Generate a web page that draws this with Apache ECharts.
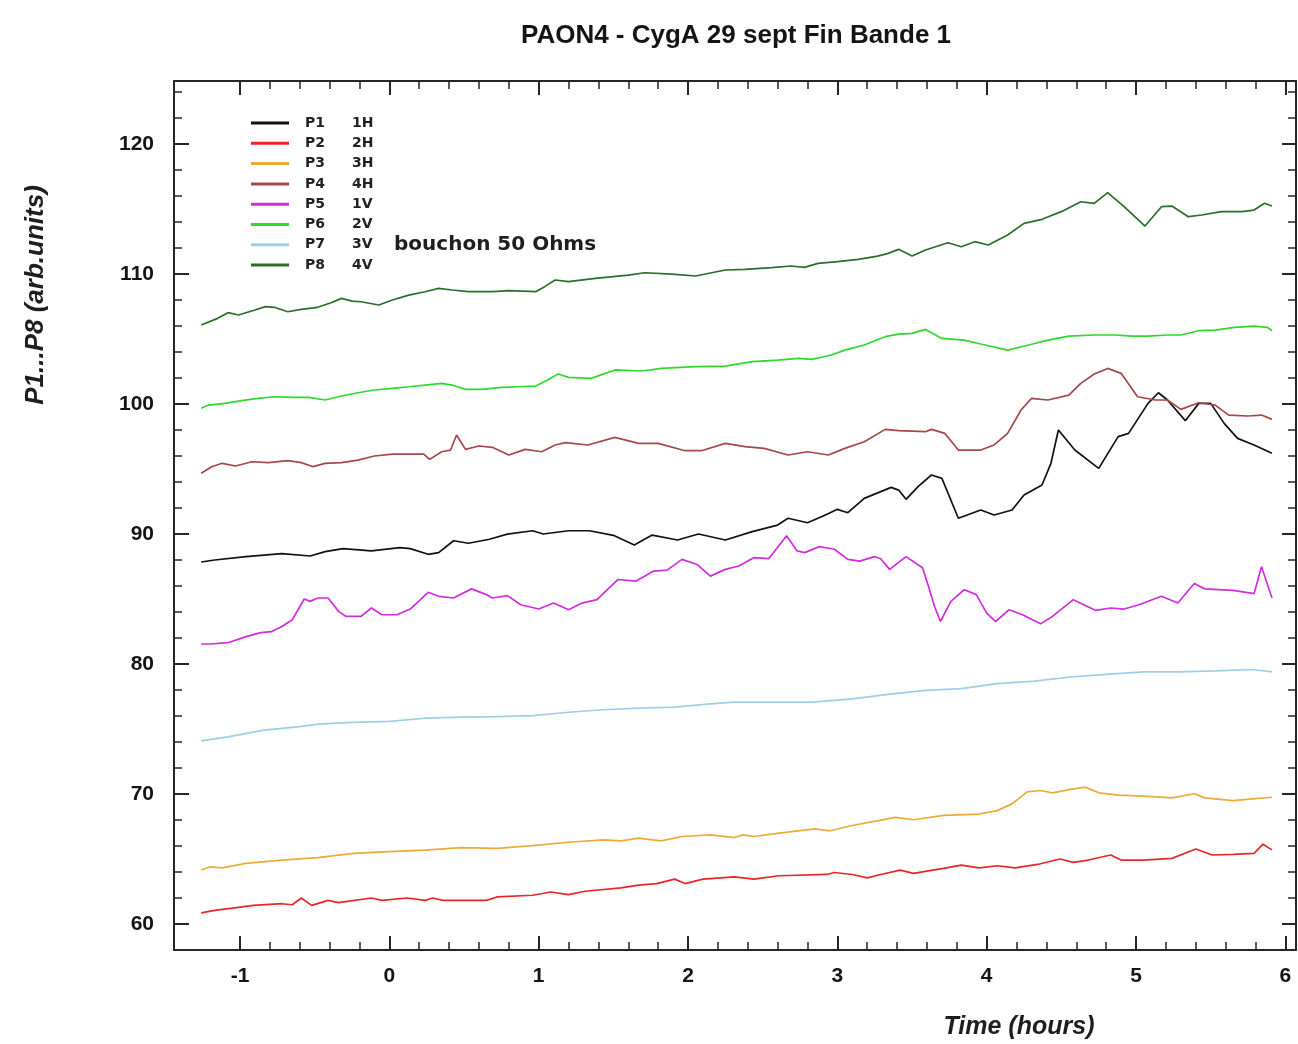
<!DOCTYPE html>
<html><head><meta charset="utf-8">
<script src="https://cdn.jsdelivr.net/npm/echarts/dist/echarts.min.js"></script>
<style>html,body{margin:0;padding:0;background:#fff}#c{width:1298px;height:1044px}</style>
</head><body><div id="c"></div><script>
const seriesNames = ['P1','P2','P3','P4','P5','P6','P7','P8'];
const polarLabels = ['1H','2H','3H','4H','1V','2V','3V','4V'];
const seriesColors = ['#111111','#e8262a','#eeaa38','#a44848','#d22cdc','#2ed82e','#9dcfe8','#2a6e2a'];
const xMajorTicks = [-1,0,1,2,3,4,5,6];
const xMinorTicks = [-0.8,-0.6,-0.4,-0.2,0.2,0.4,0.6,0.8,1.2,1.4,1.6,1.8,2.2,2.4,2.6,2.8,3.2,3.4,3.6,3.8,4.2,4.4,4.6,4.8,5.2,5.4,5.6,5.8];
const yMajorTicks = [60,70,80,90,100,110,120];
const yMinorTicks = [62,64,66,68,72,74,76,78,82,84,86,88,92,94,96,98,102,104,106,108,112,114,116,118,122,124];

const p1 = [[-1.26,87.85],[-1.17,88.0],[-0.96,88.26],[-0.72,88.49],[-0.53,88.31],[-0.43,88.65],[-0.31,88.88],[-0.12,88.7],[0.07,88.95],[0.14,88.88],[0.26,88.44],[0.33,88.57],[0.43,89.48],[0.53,89.29],[0.67,89.6],[0.79,89.99],[0.96,90.25],[1.03,90.0],[1.2,90.25],[1.34,90.25],[1.5,89.9],[1.64,89.15],[1.76,89.92],[1.93,89.54],[2.07,90.0],[2.25,89.54],[2.43,90.18],[2.6,90.69],[2.67,91.21],[2.8,90.87],[2.92,91.46],[3.0,91.9],[3.07,91.64],[3.18,92.74],[3.36,93.59],[3.41,93.38],[3.46,92.67],[3.54,93.64],[3.63,94.54],[3.7,94.28],[3.81,91.21],[3.96,91.85],[4.05,91.46],[4.17,91.85],[4.25,93.0],[4.37,93.77],[4.43,95.44],[4.48,98.0],[4.59,96.46],[4.75,95.05],[4.88,97.49],[4.95,97.74],[5.08,100.05],[5.15,100.87],[5.21,100.31],[5.33,98.72],[5.42,100.05],[5.5,100.05],[5.59,98.51],[5.68,97.36],[5.79,96.85],[5.91,96.21]];
const p2 = [[-1.26,60.85],[-1.17,61.05],[-1.05,61.22],[-0.91,61.43],[-0.72,61.56],[-0.65,61.48],[-0.59,62.0],[-0.52,61.43],[-0.41,61.82],[-0.34,61.64],[-0.12,62.0],[-0.05,61.82],[0.12,62.0],[0.24,61.82],[0.29,62.0],[0.36,61.82],[0.65,61.82],[0.72,62.08],[0.96,62.21],[1.08,62.46],[1.2,62.26],[1.31,62.52],[1.55,62.78],[1.67,62.99],[1.79,63.11],[1.91,63.45],[1.98,63.11],[2.1,63.45],[2.31,63.63],[2.44,63.45],[2.61,63.71],[2.93,63.81],[2.98,63.96],[3.1,63.81],[3.2,63.55],[3.29,63.81],[3.42,64.15],[3.51,63.89],[3.71,64.28],[3.83,64.53],[3.95,64.32],[4.07,64.48],[4.19,64.32],[4.34,64.58],[4.49,65.0],[4.58,64.74],[4.68,64.92],[4.83,65.31],[4.9,64.92],[5.05,64.92],[5.24,65.05],[5.4,65.77],[5.51,65.31],[5.65,65.36],[5.79,65.44],[5.85,66.14],[5.91,65.7]];
const p3 = [[-1.26,64.15],[-1.2,64.4],[-1.12,64.32],[-0.96,64.66],[-0.72,64.92],[-0.48,65.1],[-0.24,65.44],[0.0,65.57],[0.24,65.69],[0.48,65.88],[0.72,65.82],[0.96,66.03],[1.2,66.29],[1.43,66.47],[1.55,66.39],[1.67,66.6],[1.82,66.39],[1.96,66.73],[2.15,66.86],[2.31,66.65],[2.37,66.86],[2.44,66.73],[2.61,66.99],[2.85,67.32],[2.95,67.17],[3.1,67.58],[3.22,67.84],[3.39,68.2],[3.51,68.02],[3.71,68.35],[3.95,68.46],[4.07,68.72],[4.17,69.24],[4.27,70.17],[4.36,70.27],[4.44,70.09],[4.56,70.35],[4.66,70.53],[4.75,70.09],[4.88,69.91],[5.05,69.83],[5.24,69.7],[5.39,70.02],[5.46,69.7],[5.65,69.49],[5.8,69.65],[5.91,69.75]];
const p4 = [[-1.26,94.67],[-1.19,95.18],[-1.12,95.44],[-1.03,95.23],[-0.92,95.56],[-0.81,95.49],[-0.68,95.64],[-0.59,95.49],[-0.51,95.18],[-0.43,95.44],[-0.32,95.49],[-0.21,95.69],[-0.1,96.0],[0.02,96.15],[0.13,96.15],[0.23,96.15],[0.27,95.74],[0.35,96.33],[0.41,96.46],[0.45,97.62],[0.51,96.51],[0.6,96.77],[0.69,96.67],[0.8,96.08],[0.91,96.51],[1.02,96.33],[1.11,96.85],[1.18,97.03],[1.33,96.85],[1.51,97.44],[1.67,96.97],[1.8,96.97],[1.98,96.41],[2.09,96.41],[2.25,96.97],[2.38,96.72],[2.51,96.59],[2.67,96.08],[2.8,96.33],[2.94,96.08],[3.05,96.59],[3.18,97.1],[3.32,98.05],[3.41,97.95],[3.59,97.87],[3.63,98.05],[3.72,97.74],[3.81,96.46],[3.96,96.46],[4.05,96.85],[4.14,97.74],[4.23,99.54],[4.3,100.44],[4.41,100.31],[4.55,100.69],[4.63,101.59],[4.72,102.31],[4.81,102.74],[4.9,102.36],[5.01,100.56],[5.13,100.31],[5.21,100.31],[5.3,99.59],[5.42,100.1],[5.53,99.92],[5.62,99.15],[5.75,99.08],[5.84,99.15],[5.91,98.82]];
const p5 = [[-1.26,81.54],[-1.2,81.54],[-1.08,81.64],[-0.96,82.11],[-0.86,82.42],[-0.79,82.49],[-0.72,82.88],[-0.65,83.4],[-0.57,85.0],[-0.53,84.82],[-0.48,85.08],[-0.41,85.08],[-0.34,84.05],[-0.29,83.66],[-0.19,83.66],[-0.12,84.31],[-0.05,83.79],[0.05,83.79],[0.14,84.23],[0.26,85.52],[0.33,85.21],[0.43,85.08],[0.55,85.78],[0.65,85.34],[0.69,85.08],[0.79,85.26],[0.88,84.56],[1.0,84.23],[1.1,84.69],[1.2,84.18],[1.29,84.69],[1.39,84.95],[1.53,86.5],[1.65,86.37],[1.77,87.15],[1.86,87.22],[1.96,88.05],[2.06,87.66],[2.15,86.76],[2.25,87.28],[2.34,87.54],[2.44,88.18],[2.54,88.1],[2.66,89.86],[2.73,88.7],[2.78,88.57],[2.88,89.03],[2.98,88.83],[3.07,88.05],[3.15,87.92],[3.25,88.26],[3.29,88.1],[3.35,87.28],[3.46,88.26],[3.57,87.41],[3.61,85.99],[3.65,84.44],[3.69,83.27],[3.76,84.82],[3.85,85.72],[3.93,85.34],[4.0,83.92],[4.06,83.27],[4.15,84.18],[4.24,83.79],[4.36,83.09],[4.44,83.66],[4.58,84.95],[4.73,84.12],[4.83,84.31],[4.92,84.23],[5.02,84.56],[5.17,85.21],[5.28,84.69],[5.39,86.19],[5.46,85.78],[5.65,85.67],[5.79,85.41],[5.84,87.48],[5.91,85.08]];
const p6 = [[-1.26,99.67],[-1.21,99.92],[-1.1,100.05],[-0.99,100.26],[-0.88,100.44],[-0.77,100.56],[-0.65,100.51],[-0.54,100.51],[-0.43,100.31],[-0.32,100.62],[-0.21,100.87],[-0.1,101.08],[0.02,101.21],[0.13,101.33],[0.24,101.46],[0.35,101.59],[0.42,101.46],[0.51,101.13],[0.62,101.13],[0.75,101.28],[0.86,101.33],[0.98,101.38],[1.06,101.85],[1.13,102.31],[1.2,102.05],[1.35,101.97],[1.51,102.62],[1.69,102.54],[1.82,102.74],[2.05,102.87],[2.25,102.92],[2.43,103.26],[2.6,103.38],[2.74,103.51],[2.83,103.44],[2.96,103.77],[3.05,104.15],[3.18,104.54],[3.32,105.18],[3.41,105.38],[3.5,105.44],[3.59,105.74],[3.7,105.05],[3.85,104.92],[3.96,104.62],[4.14,104.15],[4.28,104.54],[4.41,104.92],[4.55,105.23],[4.72,105.31],[4.86,105.31],[4.97,105.23],[5.08,105.23],[5.21,105.31],[5.3,105.31],[5.42,105.64],[5.53,105.69],[5.66,105.9],[5.79,106.0],[5.88,105.9],[5.91,105.64]];
const p7 = [[-1.26,74.09],[-1.08,74.4],[-0.84,74.92],[-0.6,75.18],[-0.48,75.38],[-0.24,75.51],[0.0,75.59],[0.24,75.83],[0.48,75.91],[0.72,75.95],[0.96,76.03],[1.2,76.29],[1.43,76.48],[1.67,76.6],[1.91,76.68],[2.15,76.94],[2.31,77.07],[2.49,77.07],[2.83,77.07],[3.1,77.32],[3.34,77.66],[3.59,77.97],[3.83,78.1],[4.07,78.49],[4.32,78.69],[4.56,79.0],[4.8,79.21],[5.05,79.39],[5.29,79.39],[5.53,79.47],[5.78,79.58],[5.91,79.39]];
const p8 = [[-1.26,106.08],[-1.15,106.59],[-1.08,107.03],[-1.01,106.85],[-0.9,107.23],[-0.83,107.49],[-0.77,107.44],[-0.68,107.1],[-0.59,107.28],[-0.48,107.44],[-0.39,107.79],[-0.32,108.13],[-0.25,107.92],[-0.19,107.87],[-0.07,107.62],[0.02,108.0],[0.13,108.38],[0.24,108.64],[0.33,108.9],[0.42,108.77],[0.53,108.64],[0.69,108.64],[0.8,108.72],[0.98,108.64],[1.04,109.03],[1.11,109.54],[1.2,109.41],[1.38,109.67],[1.6,109.92],[1.71,110.1],[1.89,110.0],[2.05,109.85],[2.25,110.31],[2.38,110.36],[2.56,110.49],[2.69,110.62],[2.78,110.51],[2.87,110.82],[3.0,110.95],[3.14,111.13],[3.27,111.38],[3.34,111.59],[3.41,111.9],[3.5,111.38],[3.59,111.85],[3.74,112.41],[3.83,112.1],[3.92,112.49],[4.01,112.23],[4.14,113.0],[4.25,113.9],[4.37,114.21],[4.5,114.8],[4.63,115.56],[4.72,115.44],[4.81,116.26],[4.92,115.18],[5.06,113.69],[5.17,115.18],[5.24,115.23],[5.35,114.41],[5.44,114.54],[5.57,114.8],[5.71,114.8],[5.79,114.92],[5.86,115.44],[5.91,115.23]];
const seriesData = [p1,p2,p3,p4,p5,p6,p7,p8];

const X_MIN = -1.442, X_MAX = 6.071, Y_MIN = 58, Y_MAX = 124.85;
const FRAME = '#262626';
const LAB = 'Liberation Sans';

function xAx(pos, ticks, len, line, labels) {
  return {
    type: 'value', min: X_MIN, max: X_MAX, position: pos,
    axisLine: {show: line, onZero: false, lineStyle: {color: FRAME, width: 2}},
    axisTick: {show: true, inside: true, length: len, customValues: ticks, lineStyle: {color: FRAME, width: len > 10 ? 2 : 1.5}},
    axisLabel: labels ? {show: true, customValues: ticks, margin: 16, fontFamily: LAB, fontWeight: 'bold', fontSize: 21, color: '#141414'} : {show: false},
    splitLine: {show: false}
  };
}
function yAx(pos, ticks, len, line, labels) {
  return {
    type: 'value', min: Y_MIN, max: Y_MAX, position: pos,
    axisLine: {show: line, onZero: false, lineStyle: {color: FRAME, width: 2}},
    axisTick: {show: true, inside: true, length: len, customValues: ticks, lineStyle: {color: FRAME, width: len > 10 ? 2 : 1.5}},
    axisLabel: labels ? {show: true, customValues: ticks, margin: 20, fontFamily: LAB, fontWeight: 'bold', fontSize: 21, color: '#141414'} : {show: false},
    splitLine: {show: false}
  };
}

const chart = echarts.init(document.getElementById('c'), null, {renderer: 'canvas'});
chart.setOption({
  animation: false,
  backgroundColor: '#ffffff',
  title: {
    text: 'PAON4 - CygA 29 sept Fin Bande 1', left: 731, top: 18, textAlign: 'center',
    textStyle: {fontFamily: LAB, fontWeight: 'bold', fontSize: 26, color: '#141414'}
  },
  grid: {left: 174, right: 2, top: 81, bottom: 94, containLabel: false},
  xAxis: [
    xAx('bottom', xMajorTicks, 14, true, true),
    xAx('bottom', xMinorTicks, 8, false, false),
    xAx('top', xMajorTicks, 14, true, false),
    xAx('top', xMinorTicks, 8, false, false)
  ],
  yAxis: [
    yAx('left', yMajorTicks, 15, true, true),
    yAx('left', yMinorTicks, 8, false, false),
    yAx('right', yMajorTicks, 14, true, false),
    yAx('right', yMinorTicks, 8, false, false)
  ],
  legend: {
    orient: 'vertical', left: 246, top: 111, itemWidth: 38, itemHeight: 3, itemGap: 6.3,
    icon: 'rect', selectedMode: false, data: seriesNames,
    formatter: function (n) { return '{a|' + n + '}{b|' + polarLabels[seriesNames.indexOf(n)] + '}'; },
    textStyle: {
      fontFamily: 'DejaVu Sans', fontWeight: 'bold', fontSize: 14, color: '#222', lineHeight: 14,
      rich: {
        a: {fontFamily: 'DejaVu Sans', fontWeight: 'bold', fontSize: 14, color: '#222', width: 47, padding: [0, 0, 0, 11], lineHeight: 14},
        b: {fontFamily: 'DejaVu Sans', fontWeight: 'bold', fontSize: 14, color: '#222', lineHeight: 14}
      }
    }
  },
  graphic: [
    {type: 'text', x: 394, y: 245, style: {text: 'bouchon 50 Ohms', font: 'bold 20px "DejaVu Sans"', fill: '#1e1e1e', align: 'left', verticalAlign: 'middle'}},
    {type: 'text', x: 36, y: 295, rotation: Math.PI / 2, style: {text: 'P1...P8 (arb.units)', font: 'italic bold 26px "Liberation Sans"', fill: '#1e1e1e', align: 'center', verticalAlign: 'middle'}},
    {type: 'text', x: 1019, y: 1027, style: {text: 'Time (hours)', font: 'italic bold 25px "Liberation Sans"', fill: '#1e1e1e', align: 'center', verticalAlign: 'middle'}}
  ],
  series: seriesNames.map(function (n, i) {
    return {
      type: 'line', name: n, data: seriesData[i], xAxisIndex: 0, yAxisIndex: 0,
      symbol: 'none', showSymbol: false, smooth: false, color: seriesColors[i],
      lineStyle: {color: seriesColors[i], width: 1.7}
    };
  })
});
</script></body></html>
